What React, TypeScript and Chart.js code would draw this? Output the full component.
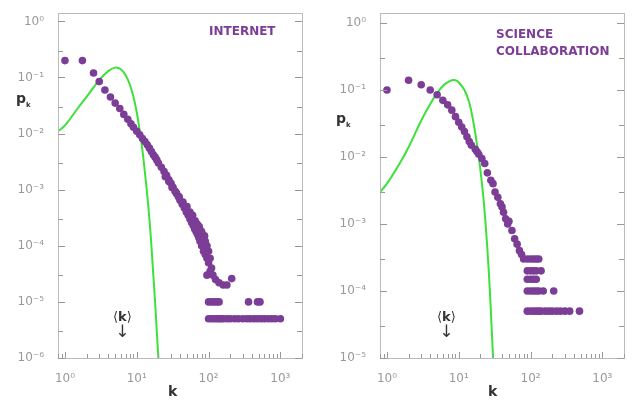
import { useEffect, useRef } from "react";
import { Chart, registerables } from "chart.js";

Chart.register(...registerables);

const PURPLE = "#7b3d96";
const GREEN = "#3ee03a";

// Internet: degree distribution
const netK = [1, 1.75, 2.5, 3, 3.6, 4.3, 5, 5.8, 6.6, 7.5, 8.3, 9, 10, 11, 12, 13, 14, 15, 16, 17, 18, 19, 20, 22, 24, 26, 28, 30, 32, 34, 36, 38, 40, 43, 46, 49, 52, 55, 58, 61, 64, 67, 70, 73, 76, 80, 85, 90, 95, 100, 110, 95, 105, 115, 125, 140, 160, 180, 210,
  25, 28, 31, 35, 39, 44, 50, 55, 60, 65, 70, 75, 80, 85, 90, 62, 68, 74, 80, 88, 95, 100, 105,
  100, 110, 120, 130, 140, 360, 480, 520,
  100, 110, 120, 130, 140, 150, 160, 180, 200, 230, 260, 300, 340, 380, 430, 480, 540, 600, 680, 760, 850, 1000];
const netP = [0.2, 0.2, 0.12, 0.085, 0.06, 0.045, 0.035, 0.028, 0.022, 0.018, 0.015, 0.013, 0.011, 0.0095, 0.0082, 0.0072, 0.0063, 0.0055, 0.0048, 0.0042, 0.0038, 0.0034, 0.003, 0.0025, 0.0021, 0.0018, 0.0015, 0.0013, 0.0011, 0.00095, 0.00085, 0.00075, 0.00065, 0.00055, 0.00047, 0.0004, 0.00035, 0.0003, 0.00026, 0.00023, 0.0002, 0.00018, 0.00016, 0.00014, 0.00012, 0.0001, 0.00008, 0.00007, 0.00006, 0.00005, 0.00004, 0.00003, 0.000035, 0.00003, 0.000025, 0.000022, 0.00002, 0.00002, 0.000026,
  0.0017, 0.0014, 0.0011, 0.0009, 0.00075, 0.0006, 0.0005, 0.0004, 0.00035, 0.00028, 0.00024, 0.0002, 0.00017, 0.00014, 0.00012, 0.00028, 0.00025, 0.00022, 0.00018, 0.00015, 0.0001, 0.00008, 0.00006,
  0.00001, 0.00001, 0.00001, 0.00001, 0.00001, 0.00001, 0.00001, 0.00001,
  0.000005, 0.000005, 0.000005, 0.000005, 0.000005, 0.000005, 0.000005, 0.000005, 0.000005, 0.000005, 0.000005, 0.000005, 0.000005, 0.000005, 0.000005, 0.000005, 0.000005, 0.000005, 0.000005, 0.000005, 0.000005, 0.000005];
const netCurveK = [0.8, 1, 1.5, 2, 3, 4, 5, 6, 7, 8, 9, 10, 11, 12, 13, 14, 15, 16, 17, 18, 19, 20];
const netCurveP = [0.011, 0.014, 0.028, 0.045, 0.09, 0.13, 0.15, 0.14, 0.11, 0.075, 0.045, 0.024, 0.011, 0.005, 0.002, 0.0008, 0.0003, 0.0001, 0.00003, 0.00001, 0.000003, 0.000001];

// Science collaboration
const sciK = [1, 2, 3, 4, 5, 6, 7, 8, 9, 10, 11, 12, 13, 14, 15, 17, 18, 19, 21, 23, 25, 28, 30, 32, 35, 38, 40, 42, 45, 48, 50, 55, 60, 65, 70, 75, 80,
  90, 100, 110, 120, 130, 90, 100, 110, 120, 140, 90, 100, 110, 120, 90, 100, 110, 120, 130, 150, 210,
  90, 100, 110, 120, 130, 140, 160, 180, 200, 230, 260, 300, 350, 480];
const sciP = [0.1, 0.14, 0.12, 0.1, 0.085, 0.07, 0.06, 0.05, 0.04, 0.033, 0.028, 0.024, 0.02, 0.017, 0.015, 0.013, 0.012, 0.011, 0.0095, 0.008, 0.0058, 0.0045, 0.004, 0.003, 0.0025, 0.002, 0.0018, 0.0015, 0.0012, 0.001, 0.0011, 0.0008, 0.0006, 0.0005, 0.0004, 0.00035, 0.0003,
  0.0003, 0.0003, 0.0003, 0.0003, 0.0003, 0.0002, 0.0002, 0.0002, 0.0002, 0.0002, 0.00015, 0.00015, 0.00015, 0.00015, 0.0001, 0.0001, 0.0001, 0.0001, 0.0001, 0.0001, 0.0001,
  0.00005, 0.00005, 0.00005, 0.00005, 0.00005, 0.00005, 0.00005, 0.00005, 0.00005, 0.00005, 0.00005, 0.00005, 0.00005, 0.00005];
const sciCurveK = [0.8, 1, 1.5, 2, 3, 4, 5, 6, 7, 8, 9, 10, 12, 14, 16, 18, 20, 22, 24, 26, 28, 30];
const sciCurveP = [0.003, 0.004, 0.008, 0.014, 0.035, 0.062, 0.09, 0.115, 0.13, 0.14, 0.14, 0.13, 0.1, 0.065, 0.033, 0.015, 0.0065, 0.0025, 0.0008, 0.00022, 0.00005, 0.00001];

const SUP: Record<string, string> = { "-": "⁻", "0": "⁰", "1": "¹", "2": "²", "3": "³", "4": "⁴", "5": "⁵", "6": "⁶" };
const sup = (n: number) => "10" + String(n).split("").map((c) => SUP[c]).join("");

const innerTicks = {
  id: "innerTicks",
  afterDraw(chart: any) {
    const { ctx, chartArea: a, scales } = chart;
    ctx.save();
    ctx.strokeStyle = "#bbb";
    ctx.lineWidth = 1;
    ctx.strokeRect(Math.round(a.left) + 0.5, Math.round(a.top) + 0.5, Math.round(a.right - a.left), Math.round(a.bottom - a.top));
    ctx.strokeStyle = "#999";
    const x = scales.x, y = scales.y;
    for (let e = -1; e <= 4; e++) {
      for (let m = 1; m <= 9; m++) {
        const v = m * Math.pow(10, e);
        if (v < x.min || v > x.max) continue;
        const px = Math.round(x.getPixelForValue(v)) + 0.5;
        const len = m === 1 ? 6 : 4;
        ctx.beginPath();
        ctx.moveTo(px, a.bottom);
        ctx.lineTo(px, a.bottom - len);
        ctx.stroke();
      }
    }
    for (let e = -7; e <= 1; e++) {
      for (const m of [1, 3]) {
        const v = m * Math.pow(10, e);
        if (v < y.min || v > y.max) continue;
        const py = Math.round(y.getPixelForValue(v)) + 0.5;
        const len = m === 1 ? 7 : 5;
        ctx.beginPath();
        ctx.moveTo(a.left, py);
        ctx.lineTo(a.left + len, py);
        ctx.moveTo(a.right, py);
        ctx.lineTo(a.right - len, py);
        ctx.stroke();
      }
    }
    ctx.restore();
  },
};

function Panel(props: {
  k: number[]; p: number[]; ck: number[]; cp: number[]; yMin: number; left: number;
}) {
  const ref = useRef<HTMLCanvasElement>(null);
  useEffect(() => {
    if (!ref.current) return;
    const chart = new Chart(ref.current, {
      type: "scatter",
      data: {
        datasets: [
          {
            data: props.ck.map((v, i) => ({ x: v, y: props.cp[i] })),
            showLine: true,
            borderColor: GREEN,
            borderWidth: 2,
            pointRadius: 0,
            tension: 0.4,
            order: 2,
          },
          {
            data: props.k.map((v, i) => ({ x: v, y: props.p[i] })),
            backgroundColor: PURPLE,
            borderWidth: 0,
            pointRadius: 3.8,
            order: 1,
          },
        ],
      },
      options: {
        responsive: false,
        animation: false,
        layout: { padding: { top: 5, right: 18 } },
        plugins: { legend: { display: false }, tooltip: { enabled: false } },
        scales: {
          x: {
            type: "logarithmic",
            min: 0.8,
            max: 2000,
            grid: { display: false },
            border: { color: "#bbb" },
            afterFit: (s: any) => { s.height = 53; },
            afterBuildTicks: (s: any) => { s.ticks = [1, 10, 100, 1000].map((v) => ({ value: v })); },
            ticks: {
              color: "#999",
              font: { family: "DejaVu Sans", size: 12 },
              padding: 6,
              callback: (v: any) => sup(Math.round(Math.log10(v))),
            },
          },
          y: {
            type: "logarithmic",
            min: props.yMin,
            max: 1.4,
            grid: { display: false },
            border: { color: "#bbb" },
            afterFit: (s: any) => { s.width = 58; },
            afterBuildTicks: (s: any) => {
              const t = [];
              for (let e = Math.round(Math.log10(props.yMin)); e <= 0; e++) t.push({ value: Math.pow(10, e) });
              s.ticks = t;
            },
            ticks: {
              color: "#999",
              font: { family: "DejaVu Sans", size: 12 },
              padding: 6,
              callback: (v: any) => sup(Math.round(Math.log10(v))),
            },
          },
        },
      },
      plugins: [innerTicks],
    });
    return () => chart.destroy();
  }, []);
  return (
    <canvas ref={ref} width={320} height={411}
      style={{ position: "absolute", left: props.left, top: 0, width: 320, height: 411 }} />
  );
}

const txt = { position: "absolute" as const, fontFamily: "DejaVu Sans, sans-serif" };

export default function App() {
  return (
    <div style={{ position: "fixed", left: 0, top: 0, width: 639, height: 411, background: "#fff", overflow: "hidden" }}>
      <Panel k={netK} p={netP} ck={netCurveK} cp={netCurveP} yMin={1e-6} left={0} />
      <Panel k={sciK} p={sciP} ck={sciCurveK} cp={sciCurveP} yMin={1e-5} left={322} />
      <div style={{ ...txt, left: 209, top: 24, color: PURPLE, fontWeight: 700, fontSize: 12 }}>INTERNET</div>
      <div style={{ ...txt, left: 496, top: 26, color: PURPLE, fontWeight: 700, fontSize: 12, lineHeight: "17px" }}>SCIENCE<br />COLLABORATION</div>
      <div style={{ ...txt, left: 16, top: 90, fontWeight: 700, fontSize: 14, color: "#333" }}>p<sub style={{ fontSize: 7 }}>k</sub></div>
      <div style={{ ...txt, left: 336, top: 110, fontWeight: 700, fontSize: 14, color: "#333" }}>p<sub style={{ fontSize: 7 }}>k</sub></div>
      <div style={{ ...txt, left: 168, top: 383, fontWeight: 700, fontSize: 14, color: "#333" }}>k</div>
      <div style={{ ...txt, left: 488, top: 383, fontWeight: 700, fontSize: 14, color: "#333" }}>k</div>
      <div style={{ ...txt, left: 113, top: 309, fontSize: 13, color: "#333" }}>⟨<b>k</b>⟩<div style={{ textAlign: "center", fontSize: 17, lineHeight: "17px", marginTop: -1 }}>↓</div></div>
      <div style={{ ...txt, left: 437, top: 309, fontSize: 13, color: "#333" }}>⟨<b>k</b>⟩<div style={{ textAlign: "center", fontSize: 17, lineHeight: "17px", marginTop: -1 }}>↓</div></div>
    </div>
  );
}
